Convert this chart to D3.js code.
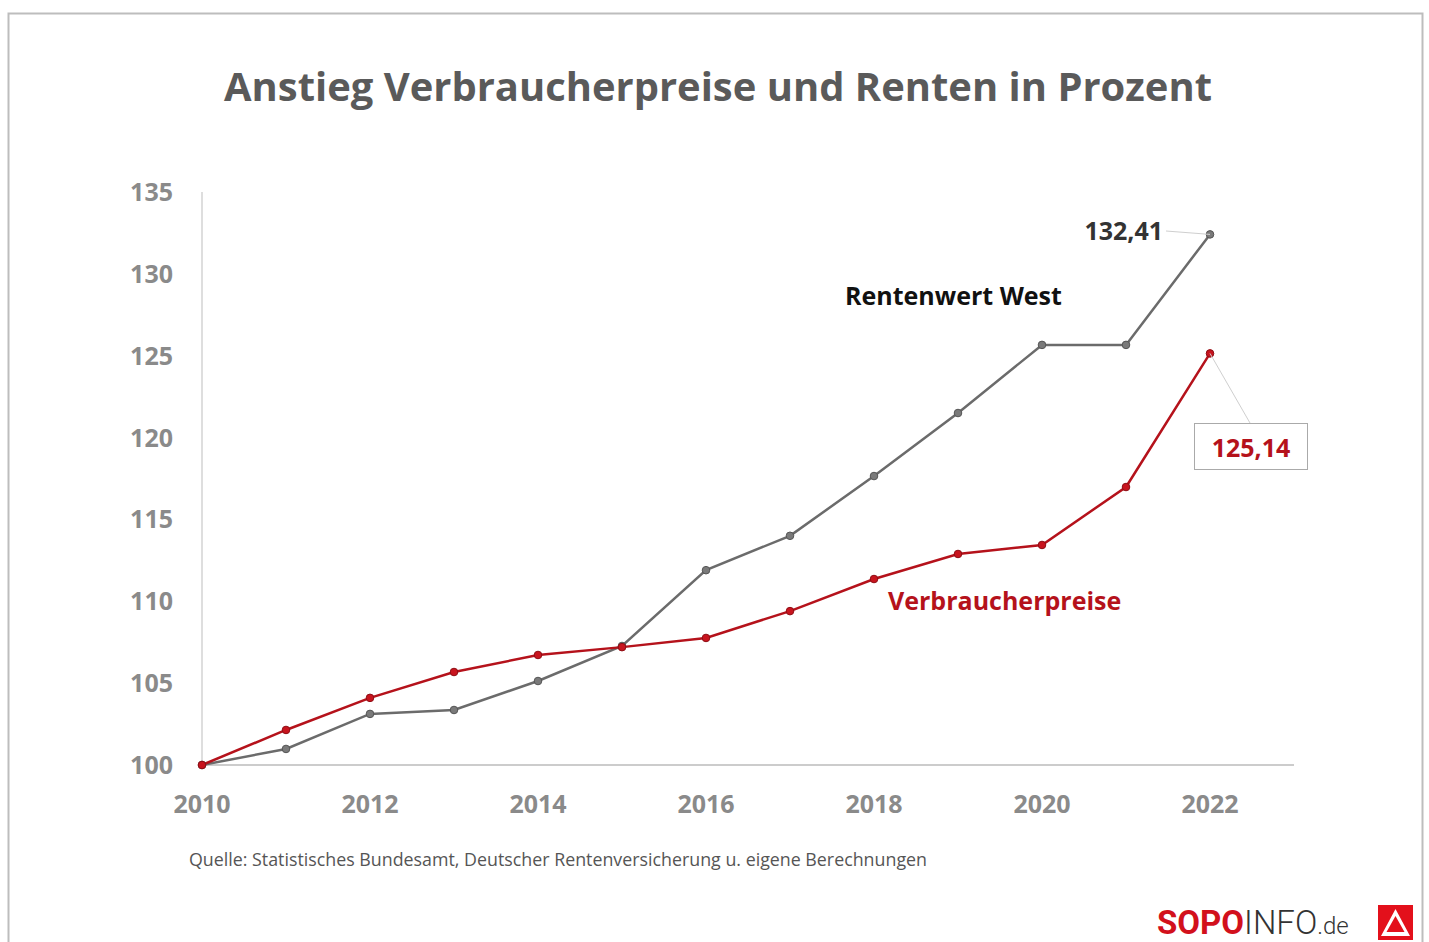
<!DOCTYPE html>
<html>
<head>
<meta charset="utf-8">
<script src="https://cdn.jsdelivr.net/npm/d3@7"></script>
<style>
  body { margin: 0; background: #fff; }
  svg { display: block; font-family: "Open Sans", "DejaVu Sans", sans-serif; }
</style>
</head>
<body>
<div id="chart"></div>
<script>
const years = [2010, 2011, 2012, 2013, 2014, 2015, 2016, 2017, 2018, 2019, 2020, 2021, 2022];
const rente = [100, 100.98, 103.12, 103.36, 105.13, 107.27, 111.9, 114.0, 117.65, 121.5, 125.66, 125.66, 132.41];
const preise = [100, 102.14, 104.1, 105.68, 106.72, 107.2, 107.76, 109.4, 111.36, 112.89, 113.44, 116.98, 125.14];
const yTicks = [100, 105, 110, 115, 120, 125, 130, 135];
const xTicks = [2010, 2012, 2014, 2016, 2018, 2020, 2022];

const W = 1429, H = 942;
const red = '#b5121b', grey = '#6b6b6b';

const svg = d3.select('#chart').append('svg')
  .attr('width', W).attr('height', H);

// frame
svg.append('rect').attr('x', 8.5).attr('y', 13.5).attr('width', 1414).attr('height', 940)
  .attr('fill', 'none').attr('stroke', '#bdbdbd').attr('stroke-width', 2);

svg.append('text')
  .attr('x', 718).attr('y', 101)
  .attr('text-anchor', 'middle')
  .attr('font-size', 40).attr('font-weight', 700).attr('fill', '#5a5a5a')
  .attr('textLength', 988).attr('lengthAdjust', 'spacingAndGlyphs')
  .text('Anstieg Verbraucherpreise und Renten in Prozent');

const x = d3.scaleLinear().domain([2010, 2023]).range([202, 1294]);
const y = d3.scaleLinear().domain([100, 135]).range([765, 192]);

// axes lines
svg.append('line').attr('x1', 202).attr('x2', 202).attr('y1', y(135)).attr('y2', y(100))
  .attr('stroke', '#c8c8c8').attr('stroke-width', 1.2);
svg.append('line').attr('x1', 202).attr('x2', x(2023)).attr('y1', y(100)).attr('y2', y(100))
  .attr('stroke', '#9a9a9a').attr('stroke-width', 1.2);

svg.append('g').selectAll('text').data(yTicks).join('text')
  .attr('x', 173).attr('y', d => y(d) + 9)
  .attr('text-anchor', 'end')
  .attr('font-size', 25).attr('font-weight', 700).attr('fill', '#8a8a8a')
  .text(d => d);

svg.append('g').selectAll('text').data(xTicks).join('text')
  .attr('x', d => x(d)).attr('y', 813)
  .attr('text-anchor', 'middle')
  .attr('font-size', 25).attr('font-weight', 700).attr('fill', '#8a8a8a')
  .text(d => d);

// lines
const renteData = years.map((yr, i) => ({ yr, v: rente[i] }));
const preiseData = years.map((yr, i) => ({ yr, v: preise[i] }));
const line = d3.line().x(d => x(d.yr)).y(d => y(d.v));

svg.append('path').datum(renteData)
  .attr('fill', 'none').attr('stroke', grey).attr('stroke-width', 2.5)
  .attr('d', line);

svg.append('path').datum(preiseData)
  .attr('fill', 'none').attr('stroke', red).attr('stroke-width', 2.5)
  .attr('d', line);

svg.append('g').selectAll('circle').data(renteData).join('circle')
  .attr('cx', d => x(d.yr)).attr('cy', d => y(d.v)).attr('r', 3.8)
  .attr('fill', '#7a7a7a').attr('stroke', '#555').attr('stroke-width', 1);

svg.append('g').selectAll('circle').data(preiseData).join('circle')
  .attr('cx', d => x(d.yr)).attr('cy', d => y(d.v)).attr('r', 3.8)
  .attr('fill', '#c8141e').attr('stroke', '#8e0d14').attr('stroke-width', 1);

// annotations
const lastR = rente[rente.length - 1], lastP = preise[preise.length - 1];
svg.append('line').attr('x1', 1166).attr('y1', 231).attr('x2', x(2022)).attr('y2', y(lastR))
  .attr('stroke', '#cfcfcf').attr('stroke-width', 1);
svg.append('text').attr('x', 1163).attr('y', 240).attr('text-anchor', 'end')
  .attr('font-size', 25).attr('font-weight', 700).attr('fill', '#333')
  .text(lastR.toFixed(2).replace('.', ','));

svg.append('line').attr('x1', x(2022)).attr('y1', y(lastP)).attr('x2', 1250).attr('y2', 423)
  .attr('stroke', '#cfcfcf').attr('stroke-width', 1);
svg.append('rect').attr('x', 1194.5).attr('y', 423.5).attr('width', 113).attr('height', 46)
  .attr('fill', '#fff').attr('stroke', '#aaa').attr('stroke-width', 1);
svg.append('text').attr('x', 1251).attr('y', 457).attr('text-anchor', 'middle')
  .attr('font-size', 25).attr('font-weight', 700).attr('fill', red)
  .text(lastP.toFixed(2).replace('.', ','));

svg.append('text').attr('x', 845).attr('y', 305)
  .attr('font-size', 25).attr('font-weight', 700).attr('fill', '#111')
  .text('Rentenwert West');

svg.append('text').attr('x', 888).attr('y', 610)
  .attr('font-size', 25).attr('font-weight', 700).attr('fill', red)
  .text('Verbraucherpreise');

svg.append('text').attr('x', 189).attr('y', 866)
  .attr('font-size', 17.5).attr('fill', '#555')
  .attr('textLength', 738).attr('lengthAdjust', 'spacingAndGlyphs')
  .text('Quelle: Statistisches Bundesamt, Deutscher Rentenversicherung u. eigene Berechnungen');

// logo
const logo = svg.append('text').attr('x', 1157).attr('y', 934).attr('font-size', 33)
  .attr('font-family', '"Liberation Sans Narrow", "Roboto", sans-serif');
logo.append('tspan').attr('font-weight', 700).attr('fill', '#d2101c').text('SOPO');
logo.append('tspan').attr('font-weight', 300).attr('fill', '#333').text('INFO');
logo.append('tspan').attr('font-size', 24).attr('font-weight', 300).attr('fill', '#333').text('.de');

svg.append('rect').attr('x', 1378).attr('y', 905).attr('width', 35).attr('height', 35).attr('fill', '#e3101b');
svg.append('path').attr('d', 'M1395.5,909 L1410,936 L1381,936 Z M1395.5,916 L1404.5,932 L1386.5,932 Z')
  .attr('fill', '#fff').attr('fill-rule', 'evenodd');
</script>
</body>
</html>
